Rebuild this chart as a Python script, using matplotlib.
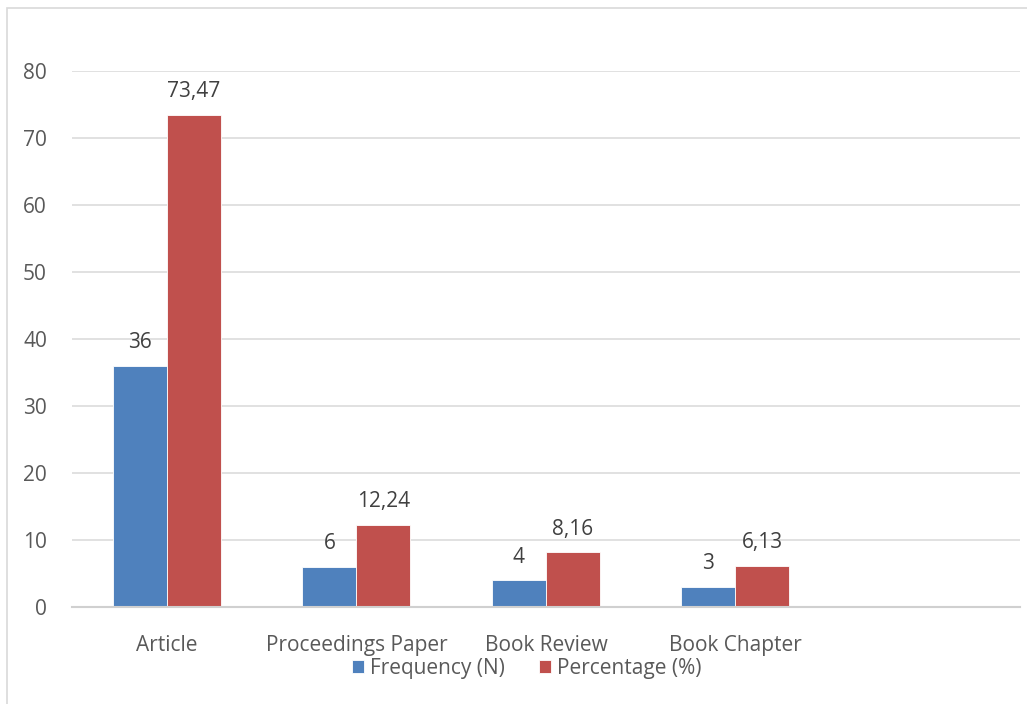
import numpy as np
import matplotlib.pyplot as plt
from matplotlib.patches import Rectangle

categories = ["Article", "Proceedings Paper", "Book Review", "Book Chapter", ""]
freq = [36, 6, 4, 3, None]
pct = [73.47, 12.24, 8.16, 6.13, None]
freq_labels = ["36", "6", "4", "3"]
pct_labels = ["73,47", "12,24", "8,16", "6,13"]

plt.rcParams['font.family'] = ['Open Sans', 'DejaVu Sans']

fig = plt.figure(figsize=(10.27, 7.04), dpi=100)
ax = fig.add_axes([0.0701, 0.1378, 0.9229, 0.7612])

# outer chart frame (left/top edges visible)
fig.patches.append(Rectangle((0.0068, -0.05), 1.1, 1.0386, transform=fig.transFigure,
                             fill=False, edgecolor="#d9d9d9", linewidth=1.2))

x = np.arange(len(categories))
w = 0.285
fv = [v if v is not None else 0 for v in freq]
pv = [v if v is not None else 0 for v in pct]
b1 = ax.bar(x[:4] - w / 2, fv[:4], w, color="#4F81BD", edgecolor="white", linewidth=0.6,
            label="Frequency (N)", zorder=3)
b2 = ax.bar(x[:4] + w / 2, pv[:4], w, color="#C0504D", edgecolor="white", linewidth=0.6,
            label="Percentage (%)", zorder=3)

for bars, labels in ((b1, freq_labels), (b2, pct_labels)):
    for rect, lab in zip(bars, labels):
        ax.annotate(lab, (rect.get_x() + rect.get_width() / 2, rect.get_height()),
                    xytext=(0, 9), textcoords="offset points", ha="center", va="bottom",
                    fontsize=15, color="#404040")

ax.set_xlim(-0.5, len(categories) - 0.5)
ax.set_ylim(0, 80)
ax.set_yticks(range(0, 81, 10))
ax.set_xticks(x)
ax.set_xticklabels(categories)
ax.tick_params(axis="both", length=0, labelsize=15, colors="#595959")
ax.tick_params(axis="y", pad=18)
ax.tick_params(axis="x", pad=20)
ax.grid(axis="y", color="#d9d9d9", linewidth=1.1, zorder=0)
for s in ("left", "right", "top"):
    ax.spines[s].set_visible(False)
ax.spines["bottom"].set_color("#d0d0d0")
ax.spines["bottom"].set_linewidth(1.5)
ax.spines["bottom"].set_zorder(4)

fig.legend(handles=[b1, b2], loc="center", bbox_to_anchor=(0.513, 0.0505), ncol=2,
           frameon=False, fontsize=15, labelcolor="#595959", handlelength=0.6,
           handleheight=0.6, handletextpad=0.3, columnspacing=1.6)

fig.savefig("out.png", dpi=100)
